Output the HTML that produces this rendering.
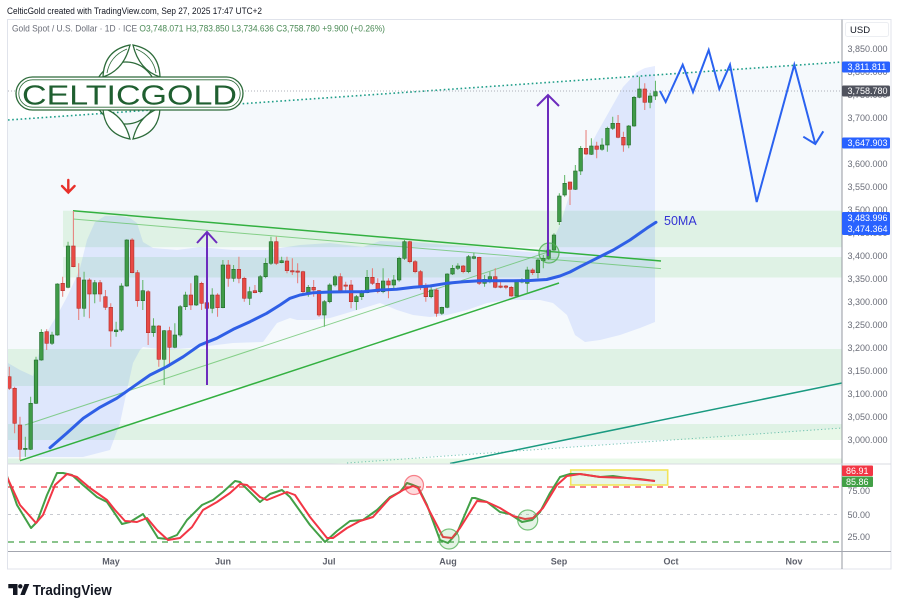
<!DOCTYPE html>
<html><head><meta charset="utf-8"><style>
html,body{margin:0;padding:0;background:#fff;}
body{width:900px;height:609px;overflow:hidden;}
svg{display:block;font-family:"Liberation Sans",sans-serif;}
</style></head><body>
<svg width="900" height="609" viewBox="0 0 900 609" xmlns="http://www.w3.org/2000/svg">
<defs>
<clipPath id="cm"><rect x="8" y="20" width="834" height="443.5"/></clipPath>
<clipPath id="co"><rect x="8" y="465" width="834" height="86"/></clipPath>
</defs>
<rect x="0" y="0" width="900" height="609" fill="#fff"/>
<text x="7" y="14" font-size="9.6" fill="#131722" textLength="255" lengthAdjust="spacingAndGlyphs">CelticGold created with TradingView.com, Sep 27, 2025 17:47 UTC+2</text>
<rect x="7.5" y="19.5" width="883.5" height="549.5" fill="#fff" stroke="#e0e3eb" stroke-width="1"/>

<g clip-path="url(#cm)">
<polygon points="8,120 842,62 842,428 8,486" fill="#f5f9fc"/>
<g fill="rgb(76,200,80)" fill-opacity="0.13">
<rect x="63" y="210.7" width="779" height="36.5"/>
<rect x="63" y="257" width="779" height="20.5"/>
<rect x="8" y="349" width="834" height="37"/>
<rect x="8" y="424" width="834" height="16"/>
<rect x="8" y="458.5" width="834" height="6"/>
</g>
<polygon fill="rgb(41,98,255)" fill-opacity="0.115" points="8,363 20,370 33,376 37,360 43,340 50,327 60,310 67,297 75,280 80,268 87,240 95,222 105,216 120,216 130,218 137,223 143,242 153,248 177,250 200,247 233,250 267,250 300,245 330,243 363,247 380,241 413,242 447,245 480,247 507,250 540,253 553,240 560,225 570,193 583,160 597,133 610,110 623,87 637,72 645,68 655,66 655,322 640,328 620,335 600,340 585,342 575,335 567,315 553,303 540,300 507,300 487,303 467,310 447,315 430,317 413,315 397,310 380,303 367,307 347,313 330,318 313,320 297,320 290,318 277,323 263,342 233,343 200,347 167,350 143,347 140,350 133,363 127,390 120,423 110,450 83,457 20,457 8,457"/>
<line x1="8" y1="120" x2="842" y2="62" stroke="#1f9e89" stroke-width="1.6" stroke-dasharray="1.6 2.6"/>
<line x1="347" y1="463" x2="842" y2="428" stroke="#1f9e89" stroke-opacity="0.6" stroke-width="1" stroke-dasharray="1.2 2.4"/>
<line x1="450" y1="463.5" x2="842" y2="383" stroke="#1a9a80" stroke-width="1.5"/>
<line x1="8" y1="91" x2="842" y2="91" stroke="#9598a1" stroke-width="0.8" stroke-dasharray="1 2"/>
<line x1="73" y1="210.7" x2="661" y2="261" stroke="#33b040" stroke-width="1.5"/>
<line x1="73" y1="219" x2="661" y2="268.6" stroke="#5cc060" stroke-opacity="0.7" stroke-width="1"/>
<line x1="20" y1="460.7" x2="559" y2="283" stroke="#33b040" stroke-width="1.5"/>
<line x1="25" y1="425" x2="548" y2="252" stroke="#5cc060" stroke-opacity="0.7" stroke-width="1"/>
<path fill="none" stroke="#5fb565" stroke-width="1" d="M25.32 436.7V456.7M30.66 396.7V450M36 356.7V404M41.34 329.3V360.7M52.02 331.7V345M57.36 283.3V335.7M68.04 241.7V288.3M84.06 271.7V316.7M94.74 280V303.3M116.1 321.7V336.7M121.44 283.3V331.7M126.78 239.3V286.7M142.8 280V310M153.48 318.3V336.7M164.16 330V385M174.84 323.3V348.3M180.18 305V336.7M185.52 291.7V310M196.2 275V306M212.22 288.3V313.3M222.9 260V308.3M233.58 265V281.7M249.6 286.7V305M260.28 275V293.3M265.62 258.3V278.3M270.96 236.7V265M281.64 256.7V263.3M308.34 285V296.7M324.36 300V326.7M329.7 283.3V303.3M335.04 275V286.7M356.4 295V310M361.74 290V300M367.08 270V293.3M383.1 268.3V293.3M393.78 275V288.3M399.12 256.7V281.7M404.46 240V260M431.16 285V298.3M441.84 306.7V315M447.18 273.3V308.3M452.52 265V275M457.86 263.3V270M468.54 255V273.3M473.88 252.7V259.3M484.56 275V286.7M489.9 271.7V283.3M516.6 280V296.7M521.94 278.3V283.3M527.28 266.7V293.3M537.96 258.3V278.3M543.3 255V268.3M548.64 246.7V260M553.98 233.3V251.7M559.32 193.3V225M564.66 175V196.7M575.34 165V190M580.68 146V175M591.36 138.3V155M602.04 138.3V150.7M607.38 126.7V151.7M612.72 116.7V130M628.74 125V148.3M634.08 96V126.7M639.42 76.7V98.3M650.1 92.7V108.3M655.44 80.7V100"/>
<path fill="none" stroke="#e77a76" stroke-width="1" d="M9.3 366.7V390M14.64 386.7V433.3M19.98 416.7V460M46.68 329.3V350M62.7 276.7V296.7M73.38 211V267.3M78.72 263.3V320M89.4 278.3V318.3M100.08 280V301.7M105.42 290V310M110.76 303.3V346.7M132.12 238.3V273.3M137.46 270V306.7M148.14 290V345M158.82 325V366.7M169.5 326.7V366.7M190.86 283.3V310M201.54 281.7V310M206.88 296.7V313.3M217.56 293.3V316.7M228.24 260V286.7M238.92 256.7V283.3M244.26 276.7V301.7M254.94 285V293.3M276.3 236.7V265M286.98 256.7V273.3M292.32 258.3V275M297.66 263.3V283.3M303 270.7V295M313.68 280V296.7M319.02 290V316.7M340.38 273.3V293.3M345.72 281.7V291.7M351.06 280V308.3M372.42 268.3V285M377.76 278.3V293.3M388.44 278.3V298.3M409.8 240.7V263.3M415.14 260V273.3M420.48 270V290M425.82 283.3V301.7M436.5 288.3V316.7M463.2 265V273.3M479.22 256.7V285M495.24 268.3V288.3M500.58 280V288.3M505.92 285V289.3M511.26 286V296.7M532.62 268.3V275M570 181.7V205M586.02 130V155M596.7 141.7V158.3M618.06 115V138.3M623.4 131.7V151.7M644.76 83.3V110"/>
<g fill="#3f9b48" stroke="#236b2c" stroke-width="0.6">
<rect x="23.52" y="448.3" width="3.6" height="1.2"/>
<rect x="28.86" y="403.3" width="3.6" height="46"/>
<rect x="34.2" y="360" width="3.6" height="43.3"/>
<rect x="39.54" y="332.3" width="3.6" height="27.7"/>
<rect x="50.22" y="335" width="3.6" height="8.3"/>
<rect x="55.56" y="284" width="3.6" height="51"/>
<rect x="66.24" y="246" width="3.6" height="41.3"/>
<rect x="82.26" y="280" width="3.6" height="28.3"/>
<rect x="92.94" y="282.7" width="3.6" height="11.3"/>
<rect x="114.3" y="330" width="3.6" height="1.7"/>
<rect x="119.64" y="286" width="3.6" height="44"/>
<rect x="124.98" y="240" width="3.6" height="46"/>
<rect x="141" y="290.7" width="3.6" height="10"/>
<rect x="151.68" y="326" width="3.6" height="6.7"/>
<rect x="162.36" y="330.7" width="3.6" height="28.6"/>
<rect x="173.04" y="335" width="3.6" height="12.3"/>
<rect x="178.38" y="306.7" width="3.6" height="28.3"/>
<rect x="183.72" y="295" width="3.6" height="11.7"/>
<rect x="194.4" y="276" width="3.6" height="29"/>
<rect x="210.42" y="295" width="3.6" height="13.3"/>
<rect x="221.1" y="265" width="3.6" height="42.7"/>
<rect x="231.78" y="269.3" width="3.6" height="9"/>
<rect x="247.8" y="291.7" width="3.6" height="6.6"/>
<rect x="258.48" y="276.7" width="3.6" height="15"/>
<rect x="263.82" y="263.3" width="3.6" height="13.4"/>
<rect x="269.16" y="241.7" width="3.6" height="21.6"/>
<rect x="279.84" y="260.7" width="3.6" height="2"/>
<rect x="306.54" y="287.3" width="3.6" height="5"/>
<rect x="322.56" y="301.7" width="3.6" height="13.3"/>
<rect x="327.9" y="285" width="3.6" height="16.7"/>
<rect x="333.24" y="276.7" width="3.6" height="8.3"/>
<rect x="354.6" y="296.7" width="3.6" height="5"/>
<rect x="359.94" y="292.7" width="3.6" height="4"/>
<rect x="365.28" y="277.3" width="3.6" height="15.4"/>
<rect x="381.3" y="281" width="3.6" height="10.7"/>
<rect x="391.98" y="280" width="3.6" height="5"/>
<rect x="397.32" y="258.3" width="3.6" height="21.7"/>
<rect x="402.66" y="241.7" width="3.6" height="16.6"/>
<rect x="429.36" y="290" width="3.6" height="6.7"/>
<rect x="440.04" y="307.3" width="3.6" height="6"/>
<rect x="445.38" y="274" width="3.6" height="33.3"/>
<rect x="450.72" y="268.3" width="3.6" height="5.7"/>
<rect x="456.06" y="266" width="3.6" height="2.3"/>
<rect x="466.74" y="256.7" width="3.6" height="15"/>
<rect x="472.08" y="256.7" width="3.6" height="1.6"/>
<rect x="482.76" y="279.3" width="3.6" height="4"/>
<rect x="488.1" y="276.7" width="3.6" height="3.3"/>
<rect x="514.8" y="280.7" width="3.6" height="15.3"/>
<rect x="520.14" y="280.7" width="3.6" height="1.3"/>
<rect x="525.48" y="270" width="3.6" height="13.3"/>
<rect x="536.16" y="260" width="3.6" height="12.7"/>
<rect x="541.5" y="258.3" width="3.6" height="2.4"/>
<rect x="546.84" y="250" width="3.6" height="8.3"/>
<rect x="552.18" y="235" width="3.6" height="15"/>
<rect x="557.52" y="196" width="3.6" height="25.7"/>
<rect x="562.86" y="183.3" width="3.6" height="11.7"/>
<rect x="573.54" y="171" width="3.6" height="18.3"/>
<rect x="578.88" y="148.3" width="3.6" height="22.7"/>
<rect x="589.56" y="146" width="3.6" height="8.3"/>
<rect x="600.24" y="145" width="3.6" height="4.3"/>
<rect x="605.58" y="128.3" width="3.6" height="16.7"/>
<rect x="610.92" y="123.3" width="3.6" height="5"/>
<rect x="626.94" y="126" width="3.6" height="19"/>
<rect x="632.28" y="97.3" width="3.6" height="28.7"/>
<rect x="637.62" y="89" width="3.6" height="8.3"/>
<rect x="648.3" y="96" width="3.6" height="6.3"/>
<rect x="653.64" y="91.7" width="3.6" height="4.3"/>
</g>
<g fill="#e84a45" stroke="#b0302c" stroke-width="0.6">
<rect x="7.5" y="376.7" width="3.6" height="11.6"/>
<rect x="12.84" y="388.3" width="3.6" height="35"/>
<rect x="18.18" y="425" width="3.6" height="24.3"/>
<rect x="44.88" y="331.7" width="3.6" height="11.6"/>
<rect x="60.9" y="283.3" width="3.6" height="7.4"/>
<rect x="71.58" y="246" width="3.6" height="20.7"/>
<rect x="76.92" y="277.7" width="3.6" height="30.6"/>
<rect x="87.6" y="280" width="3.6" height="14"/>
<rect x="98.28" y="282.7" width="3.6" height="11.3"/>
<rect x="103.62" y="296.7" width="3.6" height="10.6"/>
<rect x="108.96" y="307.3" width="3.6" height="23.7"/>
<rect x="130.32" y="240" width="3.6" height="32.7"/>
<rect x="135.66" y="272.7" width="3.6" height="28"/>
<rect x="146.34" y="291.7" width="3.6" height="41"/>
<rect x="157.02" y="326" width="3.6" height="33.3"/>
<rect x="167.7" y="330.7" width="3.6" height="16.6"/>
<rect x="189.06" y="295" width="3.6" height="10"/>
<rect x="199.74" y="283.3" width="3.6" height="20"/>
<rect x="205.08" y="302.7" width="3.6" height="5.6"/>
<rect x="215.76" y="295" width="3.6" height="12.7"/>
<rect x="226.44" y="265" width="3.6" height="13.3"/>
<rect x="237.12" y="269.3" width="3.6" height="9"/>
<rect x="242.46" y="278.3" width="3.6" height="20"/>
<rect x="253.14" y="290.7" width="3.6" height="2"/>
<rect x="274.5" y="241.7" width="3.6" height="21.6"/>
<rect x="285.18" y="261" width="3.6" height="9.7"/>
<rect x="290.52" y="270.7" width="3.6" height="1.2"/>
<rect x="295.86" y="271" width="3.6" height="1.2"/>
<rect x="301.2" y="271.7" width="3.6" height="20"/>
<rect x="311.88" y="287.3" width="3.6" height="2.7"/>
<rect x="317.22" y="290.7" width="3.6" height="24.3"/>
<rect x="338.58" y="276.7" width="3.6" height="14"/>
<rect x="343.92" y="285" width="3.6" height="1.2"/>
<rect x="349.26" y="285" width="3.6" height="16.7"/>
<rect x="370.62" y="277.3" width="3.6" height="6"/>
<rect x="375.96" y="283.3" width="3.6" height="8.4"/>
<rect x="386.64" y="281" width="3.6" height="4"/>
<rect x="408" y="241.7" width="3.6" height="20"/>
<rect x="413.34" y="261.7" width="3.6" height="10"/>
<rect x="418.68" y="271.7" width="3.6" height="15.6"/>
<rect x="424.02" y="286.7" width="3.6" height="10"/>
<rect x="434.7" y="290" width="3.6" height="23.3"/>
<rect x="461.4" y="266" width="3.6" height="5.7"/>
<rect x="477.42" y="257.3" width="3.6" height="26"/>
<rect x="493.44" y="276.7" width="3.6" height="10.6"/>
<rect x="498.78" y="286" width="3.6" height="1.3"/>
<rect x="504.12" y="286" width="3.6" height="1.3"/>
<rect x="509.46" y="287.3" width="3.6" height="8.7"/>
<rect x="530.82" y="270" width="3.6" height="2.7"/>
<rect x="568.2" y="182" width="3.6" height="7.3"/>
<rect x="584.22" y="148.3" width="3.6" height="5.7"/>
<rect x="594.9" y="146" width="3.6" height="3.3"/>
<rect x="616.26" y="123.3" width="3.6" height="14"/>
<rect x="621.6" y="137.3" width="3.6" height="7.7"/>
<rect x="642.96" y="89" width="3.6" height="13.3"/>
</g>
<polyline fill="none" stroke="#2f5fe6" stroke-width="3" stroke-linejoin="round" stroke-linecap="round" points="50,447.7 66.7,433.3 83.3,418.3 100,407.3 116.7,398.3 133.3,386.7 150,375 166.7,366.7 183.3,356.7 200,345 216.7,338.3 233.3,329.3 250,321.7 266.7,313.3 280,305 290,298.3 300,295 313.3,292.7 330,292 346.7,291.7 363.3,291.7 380,290 396.7,289.3 413.3,287.3 430,286 446.7,283.3 463.3,281.7 480,280.7 496.7,280.7 513.3,280.7 530,280.5 546.7,279.5 560,276 570,272 580,266.7 596.7,258.3 613.3,250 630,240 646.7,228.3 656,222.3"/>
<circle cx="549" cy="253" r="10" fill="rgba(76,175,80,0.18)" stroke="#4caf50" stroke-opacity="0.8" stroke-width="1.3"/>
<g stroke="#6c2bbd" stroke-width="2" fill="none">
<line x1="207" y1="385" x2="207" y2="232"/>
<polyline points="197,243 207,232 217,243"/>
<line x1="548" y1="256" x2="548" y2="95"/>
<polyline points="537,106 548,95 559,106"/>
</g>
<g stroke="#e8302a" stroke-width="2.4" fill="none" stroke-linecap="round">
<line x1="68.3" y1="180" x2="68.3" y2="192"/>
<polyline points="62,186 68.3,192.5 74.6,186"/>
</g>
<polyline fill="none" stroke="#2a62f0" stroke-width="2" stroke-linejoin="miter" points="660,91 665.7,102 682.7,64.7 693,92 708.7,50 719.3,89 730,64.7 756.7,202 794.3,64.7 815.3,144"/>
<polyline fill="none" stroke="#2a62f0" stroke-width="2" points="803.3,136.7 815.3,144 823.3,131.3"/>
<text x="664" y="225" font-size="12.5" fill="#3434d4">50MA</text>
</g>

<g stroke="#2d6b3a" fill="#fff" stroke-width="1.3">
<circle cx="125.5" cy="93" r="31" fill="none"/>
<path d="M130 45 Q104 50 103 77 Q124 70 130 45 Z"/>
<path d="M133 45 Q159 50 160 77 Q139 70 133 45 Z"/>
<path d="M130 139 Q104 134 103 108 Q124 115 130 139 Z"/>
<path d="M133 139 Q159 134 160 108 Q139 115 133 139 Z"/>
<path d="M127 49 Q110 56 107 73" fill="none" stroke-width="0.8"/>
<path d="M136 49 Q153 56 156 73" fill="none" stroke-width="0.8"/>
<rect x="16" y="77" width="227" height="33" rx="16.5" stroke-width="1.3"/>
<rect x="18.8" y="79.8" width="221.4" height="27.4" rx="13.7" fill="none" stroke-width="0.8"/>
</g>
<text x="22" y="104.5" font-size="28" fill="#1f5f30" textLength="215" lengthAdjust="spacingAndGlyphs">CELTICGOLD</text>

<text x="12" y="31.5" font-size="9.6" fill="#6a6d78" textLength="373" lengthAdjust="spacingAndGlyphs">Gold Spot / U.S. Dollar · 1D · ICE  <tspan fill="#4a8a55">O3,748.071  H3,783.850  L3,734.636  C3,758.780  +9.900 (+0.26%)</tspan></text>

<line x1="842" y1="19.5" x2="842" y2="569" stroke="#9598a1" stroke-width="1"/>
<rect x="845.5" y="22.5" width="43" height="14" rx="2" fill="#fff" stroke="#eceef2"/>
<text x="850" y="33" font-size="9.5" fill="#131722">USD</text>
<g font-size="9" fill="#6a6d78">
<text x="847.5" y="52">3,850.000</text>
<text x="847.5" y="75">3,800.000</text>
<text x="847.5" y="98">3,750.000</text>
<text x="847.5" y="121">3,700.000</text>
<text x="847.5" y="144">3,650.000</text>
<text x="847.5" y="167">3,600.000</text>
<text x="847.5" y="190">3,550.000</text>
<text x="847.5" y="213">3,500.000</text>
<text x="847.5" y="236">3,450.000</text>
<text x="847.5" y="259">3,400.000</text>
<text x="847.5" y="282">3,350.000</text>
<text x="847.5" y="305">3,300.000</text>
<text x="847.5" y="328">3,250.000</text>
<text x="847.5" y="351">3,200.000</text>
<text x="847.5" y="374">3,150.000</text>
<text x="847.5" y="397">3,100.000</text>
<text x="847.5" y="420">3,050.000</text>
<text x="847.5" y="443">3,000.000</text>
</g>
<rect x="842" y="61.5" width="48" height="11" rx="1.5" fill="#2962ff"/>
<rect x="842" y="85.5" width="48" height="11" rx="1.5" fill="#50535e"/>
<rect x="842" y="137.5" width="48" height="11" rx="1.5" fill="#2962ff"/>
<rect x="842" y="212" width="48" height="23" rx="1.5" fill="#2962ff"/>
<g font-size="9" fill="#fff">
<text x="847.5" y="70.2">3,811.811</text>
<text x="847.5" y="94.2">3,758.780</text>
<text x="847.5" y="146.2">3,647.903</text>
<text x="847.5" y="221">3,483.996</text>
<text x="847.5" y="232.2">3,474.364</text>
</g>

<line x1="8" y1="464" x2="891" y2="464" stroke="#d8dbe2" stroke-width="1"/>

<g clip-path="url(#co)">
<line x1="8" y1="487" x2="842" y2="487" stroke="#f23645" stroke-width="1.2" stroke-dasharray="6 5"/>
<line x1="8" y1="514.5" x2="842" y2="514.5" stroke="#c8cad0" stroke-width="1" stroke-dasharray="3 4"/>
<line x1="8" y1="542" x2="842" y2="542" stroke="#43a047" stroke-width="1.2" stroke-dasharray="6 5"/>
<rect x="570.7" y="470" width="97" height="15" fill="rgba(76,175,80,0.13)" stroke="#f2e45a" stroke-width="1.6"/>
<polyline fill="none" stroke="#43a047" stroke-width="2" stroke-linejoin="round" points="7,476 17,505 31,528 37,522 47,495 57,473 63,473 72,475 83,485 97,497 107,502 122,524 130,522 143,514 158,538 167,539 177,535 187,520 202,505 213,500 223,492 235,481 240,482 260,502 270,494 282,490 290,497 310,525 325,542 337,531 350,521 363,520 377,510 390,497 400,492 407,483 413,485 418,487 427,505 440,540 448,543 457,533 472,498 475,498 487,502 500,512 510,514 522,522 532,520 540,512 550,493 560,477 570,474 580,474 600,477 613,476 627,478 640,479 655,481"/>
<polyline fill="none" stroke="#f23645" stroke-width="2" stroke-linejoin="round" points="7,477 20,505 36,523 43,515 55,485 67,474 77,477 90,488 107,500 115,510 125,521 137,522 147,518 157,530 168,540 180,538 192,527 203,510 217,502 230,493 240,484 247,485 260,497 267,500 277,496 287,492 295,495 310,517 327,538 333,538 347,528 360,521 373,517 390,498 403,490 413,486 418,488 430,512 443,537 452,538 460,528 477,501 487,502 500,508 513,516 525,519 533,518 543,508 557,485 567,476 580,474 600,477 627,478 655,481"/>
<circle cx="414" cy="485" r="9.5" fill="rgba(242,54,69,0.18)" stroke="#f23645" stroke-opacity="0.6" stroke-width="1.2"/>
<circle cx="449" cy="539" r="10" fill="rgba(76,175,80,0.15)" stroke="#4caf50" stroke-opacity="0.75" stroke-width="1.2"/>
<circle cx="527.7" cy="520" r="10" fill="rgba(76,175,80,0.15)" stroke="#4caf50" stroke-opacity="0.75" stroke-width="1.2"/>
</g>
<g font-size="9" fill="#6a6d78">
<text x="847.5" y="494">75.00</text>
<text x="847.5" y="518">50.00</text>
<text x="847.5" y="540">25.00</text>
</g>
<rect x="842" y="465.5" width="31" height="10.5" rx="1" fill="#f23645"/>
<rect x="842" y="476.5" width="31" height="10.5" rx="1" fill="#43a047"/>
<g font-size="9" fill="#fff">
<text x="846" y="474">86.91</text>
<text x="846" y="485">85.86</text>
</g>

<line x1="8" y1="551.5" x2="891" y2="551.5" stroke="#a3a6af" stroke-width="1"/>
<g font-size="9" font-weight="bold" fill="#5d606b" text-anchor="middle">
<text x="111" y="564.5">May</text>
<text x="223" y="564.5">Jun</text>
<text x="329" y="564.5">Jul</text>
<text x="448" y="564.5">Aug</text>
<text x="559" y="564.5">Sep</text>
<text x="671" y="564.5">Oct</text>
<text x="794" y="564.5">Nov</text>
</g>

<g fill="#131722">
<path d="M8.3 584H17.5V595H13V588.3H8.3Z"/>
<circle cx="20.3" cy="586.3" r="2.2"/>
<path d="M24.5 584H29.3L24.8 595H20.3Z"/>
</g>
<text x="32.7" y="595" font-size="15" font-weight="bold" fill="#131722" textLength="79" lengthAdjust="spacingAndGlyphs">TradingView</text>
</svg>
</body></html>
